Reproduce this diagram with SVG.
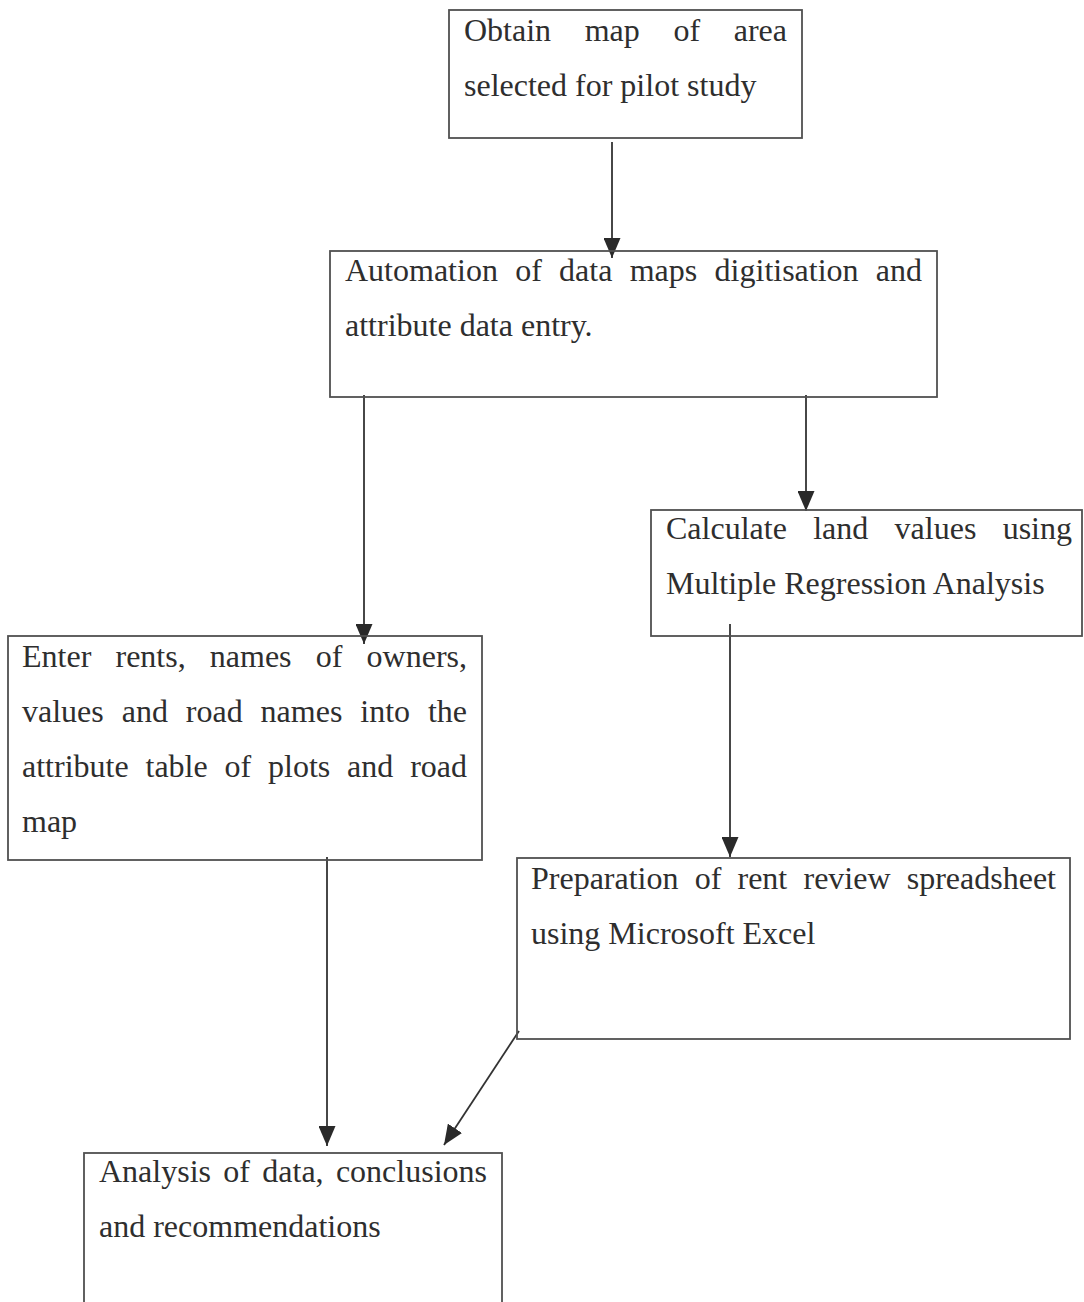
<svg xmlns="http://www.w3.org/2000/svg" width="1084" height="1302" viewBox="0 0 1084 1302">
<style>
.box{fill:none;stroke:#505050;stroke-width:1.8}
.t{font-family:"Liberation Serif","Times New Roman",serif;font-size:32px;fill:#2e2e2e}
.e{text-anchor:end}
.c{fill:none;stroke:#333;stroke-width:1.8}
</style>
<defs>
<marker id="ah" viewBox="0 0 20 17" refX="20" refY="8.5" markerWidth="20" markerHeight="17" markerUnits="userSpaceOnUse" orient="auto">
<path d="M0,0 L20,8.5 L0,17 z" fill="#2a2a2a"/>
</marker>
</defs>
<rect width="1084" height="1302" fill="#fff"/>
<g id="connectors">
<line class="c" x1="612" y1="142" x2="612" y2="258" marker-end="url(#ah)"/>
<line class="c" x1="364" y1="395" x2="364" y2="644" marker-end="url(#ah)"/>
<line class="c" x1="806" y1="395" x2="806" y2="511" marker-end="url(#ah)"/>
<line class="c" x1="730" y1="624" x2="730" y2="857" marker-end="url(#ah)"/>
<line class="c" x1="327" y1="857" x2="327" y2="1146" marker-end="url(#ah)"/>
<line class="c" x1="519" y1="1031" x2="444" y2="1145" marker-end="url(#ah)"/>
</g>
<g id="n1">
<rect class="box" x="449" y="10" width="353" height="128"/>
<text class="t" y="41"><tspan x="464">Obtain</tspan><tspan x="584.7">map</tspan><tspan x="673.4">of</tspan><tspan class="e" x="787">area</tspan></text>
<text class="t" x="464" y="96">selected for pilot study</text>
</g>
<g id="n2">
<rect class="box" x="330" y="251" width="607" height="146"/>
<text class="t" y="281"><tspan x="345">Automation</tspan><tspan x="515.2">of</tspan><tspan x="559.1">data</tspan><tspan x="629.7">maps</tspan><tspan x="714.6">digitisation</tspan><tspan class="e" x="922">and</tspan></text>
<text class="t" x="345" y="336">attribute data entry.</text>
</g>
<g id="n3">
<rect class="box" x="651" y="510" width="431" height="126"/>
<text class="t" y="539"><tspan x="666">Calculate</tspan><tspan x="813.2">land</tspan><tspan x="894.6">values</tspan><tspan class="e" x="1072">using</tspan></text>
<text class="t" x="666" y="594">Multiple Regression Analysis</text>
</g>
<g id="n4">
<rect class="box" x="8" y="636" width="474" height="224"/>
<text class="t" y="667"><tspan x="22">Enter</tspan><tspan x="115.5">rents,</tspan><tspan x="209.8">names</tspan><tspan x="315.8">of</tspan><tspan class="e" x="467">owners,</tspan></text>
<text class="t" y="722"><tspan x="22">values</tspan><tspan x="121.7">and</tspan><tspan x="185.8">road</tspan><tspan x="260.6">names</tspan><tspan x="360.3">into</tspan><tspan class="e" x="467">the</tspan></text>
<text class="t" y="777"><tspan x="22">attribute</tspan><tspan x="145.5">table</tspan><tspan x="224.5">of</tspan><tspan x="268">plots</tspan><tspan x="347">and</tspan><tspan class="e" x="467">road</tspan></text>
<text class="t" x="22" y="832">map</text>
</g>
<g id="n5">
<rect class="box" x="517" y="858" width="553" height="181"/>
<text class="t" y="889"><tspan x="531">Preparation</tspan><tspan x="694.7">of</tspan><tspan x="737.5">rent</tspan><tspan x="803.5">review</tspan><tspan class="e" x="1056">spreadsheet</tspan></text>
<text class="t" x="531" y="944">using Microsoft Excel</text>
</g>
<g id="n6">
<rect class="box" x="84" y="1153" width="418" height="170"/>
<text class="t" y="1182"><tspan x="99">Analysis</tspan><tspan x="223.3">of</tspan><tspan x="262.3">data,</tspan><tspan class="e" x="487">conclusions</tspan></text>
<text class="t" x="99" y="1237">and recommendations</text>
</g>
</svg>
